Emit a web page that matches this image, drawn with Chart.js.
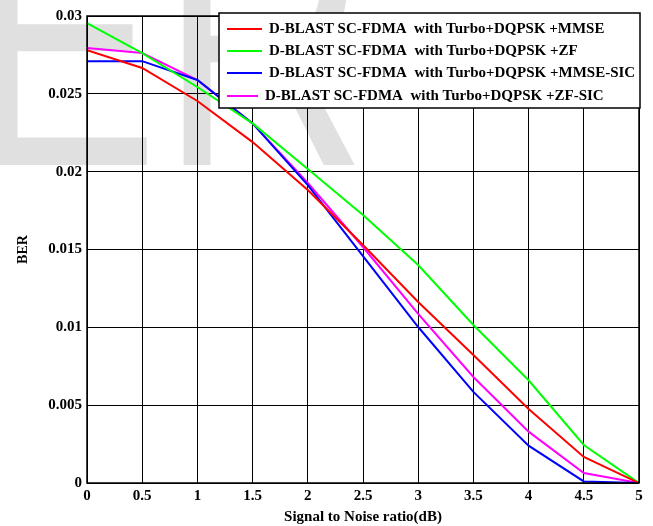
<!DOCTYPE html>
<html>
<head>
<meta charset="utf-8">
<script src="https://cdn.jsdelivr.net/npm/chart.js@4"></script>
<style>
  html, body { margin:0; padding:0; background:#fff; }
  #wrap { width:653px; height:526px; position:relative; }
</style>
</head>
<body>
<div id="wrap"><canvas id="ber"></canvas></div>
<script>
// SNR axis (dB) and BER curves
const snrDb = [0, 0.5, 1, 1.5, 2, 2.5, 3, 3.5, 4, 4.5, 5];
const berMmse    = [0.0278, 0.02666, 0.02454, 0.0219, 0.01882, 0.01529, 0.01163, 0.00822, 0.00475, 0.00167, 0];
const berZf      = [0.02955, 0.02762, 0.02544, 0.0231, 0.02017, 0.01722, 0.0140, 0.01015, 0.0066, 0.00244, 0];
const berMmseSic = [0.0271, 0.0271, 0.02589, 0.0231, 0.01914, 0.01458, 0.01002, 0.00585, 0.0024, 0.0001, 0];
const berZfSic   = [0.02794, 0.02762, 0.02589, 0.0231, 0.01927, 0.01516, 0.01086, 0.00681, 0.0033, 0.00064, 0];
const seriesNames = [
  'D-BLAST SC-FDMA  with Turbo+DQPSK +MMSE',
  'D-BLAST SC-FDMA  with Turbo+DQPSK +ZF',
  'D-BLAST SC-FDMA  with Turbo+DQPSK +MMSE-SIC',
  'D-BLAST SC-FDMA  with Turbo+DQPSK +ZF-SIC',
];
const seriesColors = ['#ff0000', '#00ff00', '#0000ff', '#ff00ff'];

const FONT = "'Liberation Serif', 'Times New Roman', serif";

const pts = ys => snrDb.map((x, i) => ({ x, y: ys[i] }));

// faint "ER" watermark behind the plot
const watermark = {
  id: 'watermark',
  beforeDraw(chart) {
    const c = chart.ctx;
    c.save();
    c.fillStyle = '#e0e0e0';
    c.font = "360px 'Liberation Sans', Arial, sans-serif";
    c.textBaseline = 'alphabetic';
    c.scale(0.8, 1);
    c.fillText('E', -33 / 0.8, 165);
    c.fillText('R', 160 / 0.8, 165);
    c.restore();
  }
};

// MATLAB-style box: frame + legend drawn inside the plot
const boxLegend = {
  id: 'boxLegend',
  afterDraw(chart) {
    const c = chart.ctx, a = chart.chartArea;
    c.save();
    c.strokeStyle = '#000'; c.lineWidth = 1.5;
    c.strokeRect(a.left, a.top, a.right - a.left, a.bottom - a.top);

    const x0 = 219, y0 = 13, w = a.right - x0 + 1, h = 95;
    c.fillStyle = '#fff';
    c.fillRect(x0, y0, w, h);
    c.lineWidth = 1.5;
    c.strokeRect(x0, y0, w, h);
    c.font = 'bold 15px ' + FONT;
    c.textBaseline = 'middle';
    const rowsY = [29, 51, 73, 96];
    chart.data.datasets.forEach((ds, i) => {
      const y = rowsY[i];
      const shift = i === 3 ? -4 : 0;
      c.strokeStyle = ds.borderColor; c.lineWidth = 2;
      c.beginPath(); c.moveTo(227, y); c.lineTo(262 + shift, y); c.stroke();
      c.fillStyle = '#000';
      const tw = c.measureText(ds.label).width;
      const target = ds.label.length * 8.6;
      c.save();
      c.translate(269 + shift, y);
      c.scale(Math.min(1, target / tw), 1);
      c.fillText(ds.label, 0, 0);
      c.restore();
    });
    c.restore();
  }
};

new Chart(document.getElementById('ber'), {
  type: 'line',
  data: {
    datasets: [berMmse, berZf, berMmseSic, berZfSic].map((d, i) => ({
      label: seriesNames[i], data: pts(d),
      borderColor: seriesColors[i], backgroundColor: seriesColors[i],
      borderWidth: 2, pointRadius: 0, tension: 0, fill: false,
    }))
  },
  options: {
    responsive: true, maintainAspectRatio: false, animation: false,
    layout: { padding: { top: 16, right: 14, left: 0, bottom: 0 } },
    plugins: { legend: { display: false }, tooltip: { enabled: false } },
    scales: {
      x: {
        type: 'linear', min: 0, max: 5,
        afterFit: s => { s.height = 43; },
        ticks: { stepSize: 0.5, color: '#000', padding: 4, maxRotation: 0,
          font: { family: FONT, size: 15, weight: 'bold' },
          callback: v => String(+v.toFixed(1)) },
        grid: { color: '#000', lineWidth: 1, drawTicks: false },
        border: { display: false },
        title: { display: true, text: 'Signal to Noise ratio(dB)', color: '#000', padding: { top: 0, bottom: 0 },
          font: { family: FONT, size: 15, weight: 'bold' } },
      },
      y: {
        min: 0, max: 0.03,
        afterFit: s => { s.width = 87; },
        ticks: { stepSize: 0.005, color: '#000', padding: 5,
          font: { family: FONT, size: 15, weight: 'bold' },
          callback: v => String(+v.toFixed(3)) },
        grid: { color: '#000', lineWidth: 1, drawTicks: false },
        border: { display: false },
        title: { display: true, text: 'BER', color: '#000', padding: { top: 15, bottom: 0 },
          font: { family: FONT, size: 14, weight: 'bold' } },
      }
    }
  },
  plugins: [watermark, boxLegend]
});
</script>
</body>
</html>
